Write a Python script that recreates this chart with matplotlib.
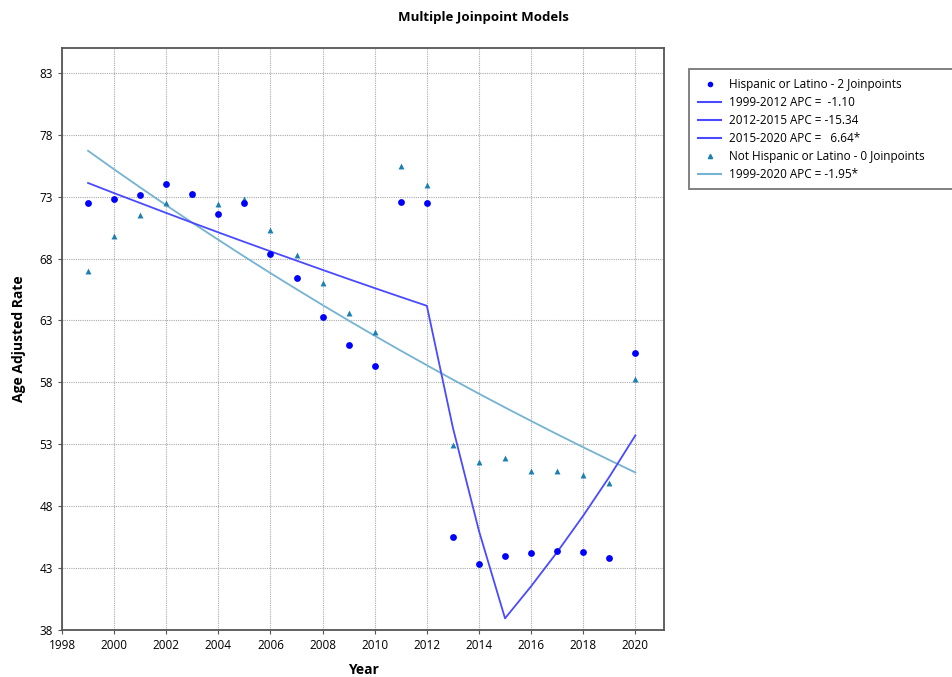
import matplotlib
matplotlib.use("Agg")
import matplotlib.pyplot as plt
from matplotlib.lines import Line2D

plt.rcParams['font.family'] = ['Open Sans', 'DejaVu Sans']

years = list(range(1999, 2021))

hisp_obs = [72.5, 72.8, 73.1, 74.0, 73.2, 71.6, 72.5, 68.4, 66.4, 63.3, 61.0, 59.3,
            72.6, 72.5, 45.5, 43.3, 44.0, 44.2, 44.4, 44.3, 43.8, 60.4]
nonhisp_obs = [67.0, 69.8, 71.5, 72.5, 73.2, 72.4, 72.8, 70.3, 68.3, 66.0, 63.6, 62.1,
               75.5, 73.9, 52.9, 51.6, 51.9, 50.8, 50.8, 50.5, 49.9, 58.3]

hisp_fit = [74.10, 73.28, 72.48, 71.68, 70.89, 70.11, 69.34, 68.58, 67.83, 67.08, 66.34,
            65.61, 64.89, 64.18, 54.33, 46.00, 38.94, 41.53, 44.29, 47.23, 50.36, 53.71]
nonhisp_fit = [76.70, 75.20, 73.74, 72.30, 70.89, 69.51, 68.15, 66.82, 65.52, 64.24, 62.99,
               61.76, 60.56, 59.38, 58.22, 57.08, 55.97, 54.88, 53.81, 52.76, 51.73, 50.72]

legend_labels = ["Hispanic or Latino - 2 Joinpoints",
                 "1999-2012 APC =  -1.10",
                 "2012-2015 APC = -15.34",
                 "2015-2020 APC =   6.64*",
                 "Not Hispanic or Latino - 0 Joinpoints",
                 "1999-2020 APC = -1.95*"]

x_ticks = list(range(1998, 2021, 2))
y_ticks = list(range(38, 84, 5))

c_hisp = "#0000ff"
c_hisp_line = "#4a4aff"
c_nh = "#1b7fb0"
c_nh_line = "#74b3d2"

fig = plt.figure(figsize=(9.53, 6.77), dpi=100)
ax = fig.add_axes([62/953, 1-630/677, (664-62)/953, (630-48)/677])

ax.plot(years, nonhisp_fit, color=c_nh_line, lw=1.3, zorder=2)
ax.plot(years, hisp_fit, color=c_hisp_line, lw=1.3, zorder=2)
ax.scatter(years, nonhisp_obs, marker="^", s=18, color=c_nh, zorder=3, linewidths=0)
ax.scatter(years, hisp_obs, marker="o", s=24, color=c_hisp, zorder=3, linewidths=0)

ax.set_xlim(1998, 2021.1)
ax.set_ylim(38, 85)
ax.set_xticks(x_ticks)
ax.set_yticks(y_ticks)
ax.tick_params(labelsize=8.5, length=3, color="#555555")
ax.grid(True, color="#aaaaaa", linestyle=(0, (1, 1)), lw=0.8)
for s in ax.spines.values():
    s.set_color("#555555")
    s.set_linewidth(1.3)

ax.set_xlabel("Year", fontsize=10, fontweight="bold", labelpad=8)
ax.set_ylabel("Age Adjusted Rate", fontsize=10, fontweight="bold", labelpad=10)
fig.text(483/953, 1-17/677, "Multiple Joinpoint Models", ha="center", va="center",
         fontsize=9.5, fontweight="bold")

handles = [
    Line2D([], [], ls="none", marker="o", ms=3, color=c_hisp),
    Line2D([], [], color=c_hisp_line, lw=1.5),
    Line2D([], [], color=c_hisp_line, lw=1.5),
    Line2D([], [], color=c_hisp_line, lw=1.5),
    Line2D([], [], ls="none", marker="^", ms=3, color=c_nh),
    Line2D([], [], color=c_nh_line, lw=1.5),
]
leg = fig.legend(handles, legend_labels, loc="upper left",
                 bbox_to_anchor=(689/953, 1-188/677, 280/953, 119/677),
                 mode="expand", borderaxespad=0, fontsize=8.5,
                 frameon=True, fancybox=False, handlelength=2.0,
                 labelspacing=0.42, borderpad=0.75, handletextpad=0.6)
leg.get_frame().set_edgecolor("#555555")
leg.get_frame().set_linewidth(1.3)

fig.savefig("out.png", dpi=100)
